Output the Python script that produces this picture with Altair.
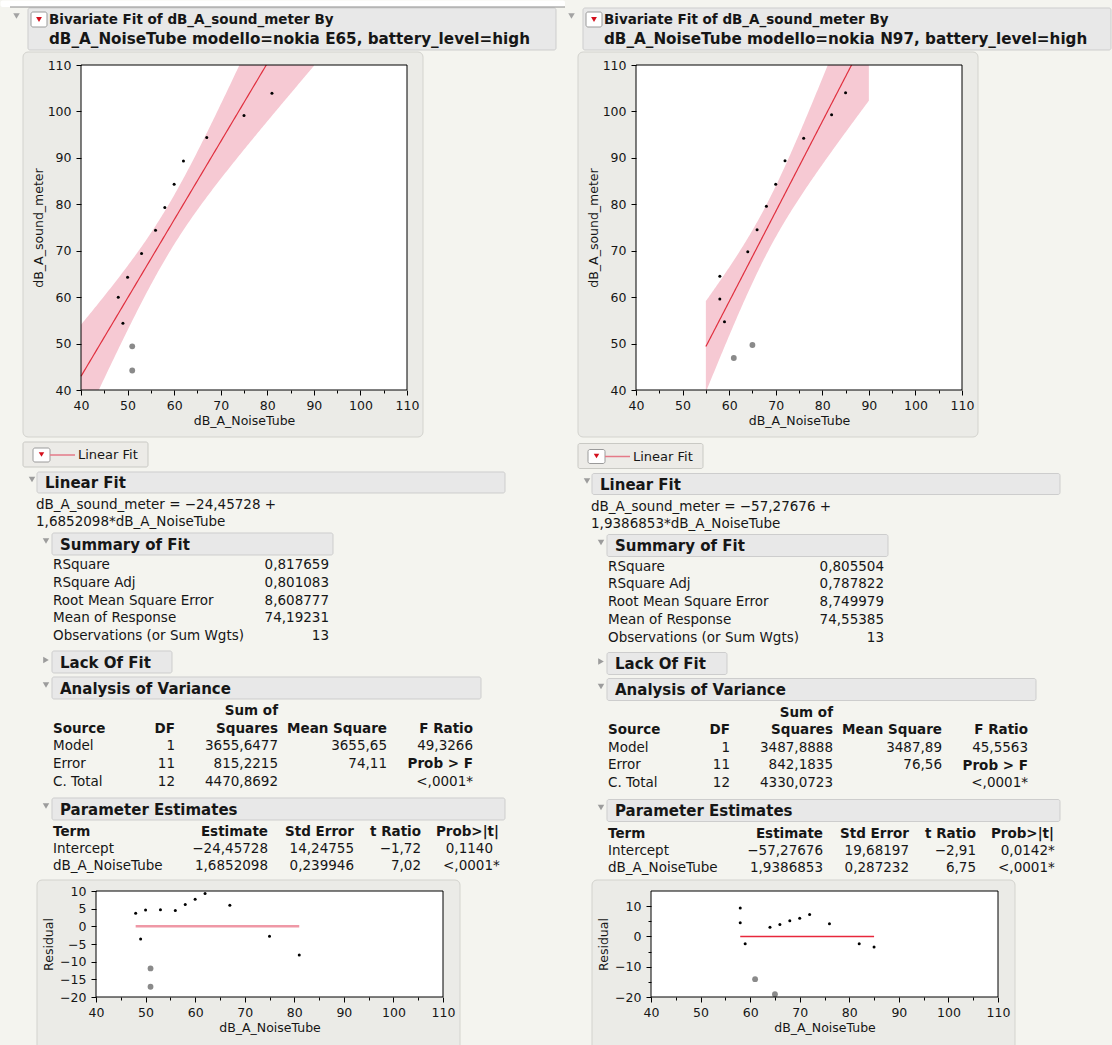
import altair as alt
import numpy as np
import pandas as pd

FONT = "DejaVu Sans"
BG = "#f4f4ef"
INK = "#161616"
PANEL = "#ebebe7"
PANEL_STROKE = "#d3d3ce"
BAR = "#e8e8e8"
BAR_STROKE = "#cdcdcd"
RED = "#e0303f"
BAND = "#f6c9d3"
BODY = 13.5
PAGE_W = 1112

# ---------------- data ----------------
left_title = ["Bivariate Fit of dB_A_sound_meter By",
              "dB_A_NoiseTube modello=nokia E65, battery_level=high"]
right_title = ["Bivariate Fit of dB_A_sound_meter By",
               "dB_A_NoiseTube modello=nokia N97, battery_level=high"]

left_noisetube = [48, 49, 50, 51, 51, 53, 56, 58, 60, 62, 67, 75, 81]
left_sound_meter = [60.0, 54.4, 64.3, 49.4, 44.2, 69.4, 74.4, 79.3, 84.3, 89.3, 94.4, 99.1, 103.9]
left_marker = ["dot", "dot", "dot", "grey", "grey", "dot", "dot", "dot", "dot", "dot", "dot", "dot", "dot"]
left_residual = [3.7, -3.6, 4.6, -11.9, -17.1, 4.7, 4.5, 6.2, 7.7, 9.3, 6.0, -2.8, -8.1]

right_noisetube = [58, 58, 59, 61, 64, 65, 66, 68, 70, 72, 76, 82, 85]
right_sound_meter = [64.5, 59.6, 54.7, 46.9, 69.8, 49.7, 74.5, 79.6, 84.3, 89.4, 94.2, 99.3, 104.0]
right_marker = ["dot", "dot", "dot", "grey", "dot", "grey", "dot", "dot", "dot", "dot", "dot", "dot", "dot"]
right_residual = [9.4, 4.5, -2.4, -14.1, 3.0, -19.1, 3.9, 5.2, 6.0, 7.2, 4.2, -2.4, -3.5]

left_fit = {"intercept": -24.45728, "slope": 1.6852098, "rmse": 8.608777, "from": 40, "to": 90}
right_fit = {"intercept": -57.27676, "slope": 1.9386853, "rmse": 8.749979, "from": 55, "to": 90}
t_crit_11df = 2.200985

left_equation = ["dB_A_sound_meter = \u221224,45728 +", "1,6852098*dB_A_NoiseTube"]
right_equation = ["dB_A_sound_meter = \u221257,27676 +", "1,9386853*dB_A_NoiseTube"]

summary_labels = ["RSquare", "RSquare Adj", "Root Mean Square Error", "Mean of Response",
                  "Observations (or Sum Wgts)"]
left_summary = ["0,817659", "0,801083", "8,608777", "74,19231", "13"]
right_summary = ["0,805504", "0,787822", "8,749979", "74,55385", "13"]

anova_sources = ["Model", "Error", "C. Total"]
anova_dfs = ["1", "11", "12"]
left_anova_ss = ["3655,6477", "815,2215", "4470,8692"]
left_anova_ms = ["3655,65", "74,11", ""]
left_anova_f = ["49,3266", "", "<,0001*"]
right_anova_ss = ["3487,8888", "842,1835", "4330,0723"]
right_anova_ms = ["3487,89", "76,56", ""]
right_anova_f = ["45,5563", "", "<,0001*"]

param_terms = ["Intercept", "dB_A_NoiseTube"]
left_estimate = ["\u221224,45728", "1,6852098"]
left_stderr = ["14,24755", "0,239946"]
left_tratio = ["\u22121,72", "7,02"]
left_prob = ["0,1140", "<,0001"]
left_flag = ["", "*"]
right_estimate = ["\u221257,27676", "1,9386853"]
right_stderr = ["19,68197", "0,287232"]
right_tratio = ["\u22122,91", "6,75"]
right_prob = ["0,0142", "<,0001"]
right_flag = ["*", "*"]

PX = dict(scale=None, axis=None)

# panel geometry (pixels): plot areas of the two columns
COL_SHIFT = 555
SCATTER_X = (81, 407)
SCATTER_TOP, SCATTER_H = 65, 325
RESID_X = (96, 443)
RESID_TOP, RESID_H = 891, 106


# ---------------- layout canvas (report decorations and text) ----------------
class Canvas:
    def __init__(self, oy=0):
        self.oy = oy
        self.dx = 0
        self.dy = 0
        self.panels, self.boxes, self.tris, self.rules, self.texts = [], [], [], [], []

    def shift(self, dx, dy):
        self.dx, self.dy = dx, dy

    def _y(self, y):
        return y + self.dy - self.oy

    def panel(self, x1, x2, y1, y2, fill=PANEL, stroke=PANEL_STROKE):
        self.panels.append(dict(x=x1 + self.dx, x2=x2 + self.dx, y=self._y(y1), y2=self._y(y2),
                                f=fill, s=stroke))

    def box(self, x1, x2, y1, y2, fill, stroke="transparent"):
        self.boxes.append(dict(x=x1 + self.dx, x2=x2 + self.dx, y=self._y(y1), y2=self._y(y2),
                               f=fill, s=stroke))

    def tri(self, x, y, shape, color, size):
        self.tris.append(dict(x=x + self.dx, y=self._y(y), sh=shape, c=color, sz=size))

    def rule(self, x1, x2, y, color, w):
        self.rules.append(dict(x=x1 + self.dx, x2=x2 + self.dx, y=self._y(y), c=color, w=w))

    def text(self, s, x, y, size=BODY, bold=False, align="left"):
        if s:
            self.texts.append(dict(t=s, x=x + self.dx, y=self._y(y), fs=size,
                                   wt="bold" if bold else "normal", al=align))

    def column(self, values, x, y0, dy, align="left", bold=False):
        for i, v in enumerate(values):
            self.text(v, x, y0 + i * dy, BODY, bold, align)

    def header(self, label, x1, x2, y1, y2, tri_x, shape="triangle-down"):
        cy = (y1 + y2) / 2
        self.tri(tri_x, cy - 3 if shape == "triangle-down" else cy - 2, shape, "#9c9c9c", 42)
        self.box(x1, x2, y1, y2, BAR, BAR_STROKE)
        self.text(label, x1 + 8, cy + 0.5, 15, True)

    def chart(self, width, height):
        layers = []
        for rows, radius in [(self.panels, 5), (self.boxes, 2)]:
            if rows:
                layers.append(alt.Chart(pd.DataFrame(rows)).mark_rect(
                    cornerRadius=radius, strokeWidth=1).encode(
                    x=alt.X("x:Q", **PX), x2="x2:Q", y=alt.Y("y:Q", **PX), y2="y2:Q",
                    fill=alt.Fill("f:N", scale=None), stroke=alt.Stroke("s:N", scale=None)))
        if self.rules:
            layers.append(alt.Chart(pd.DataFrame(self.rules)).mark_rule().encode(
                x=alt.X("x:Q", **PX), x2="x2:Q", y=alt.Y("y:Q", **PX),
                color=alt.Color("c:N", scale=None),
                strokeWidth=alt.StrokeWidth("w:Q", scale=None)))
        if self.tris:
            layers.append(alt.Chart(pd.DataFrame(self.tris)).mark_point(
                filled=True, opacity=1, strokeWidth=0).encode(
                x=alt.X("x:Q", **PX), y=alt.Y("y:Q", **PX),
                shape=alt.Shape("sh:N", scale=None), color=alt.Color("c:N", scale=None),
                size=alt.Size("sz:Q", scale=None)))
        tdf = pd.DataFrame(self.texts)
        for al in ["left", "right"]:
            for wt in ["normal", "bold"]:
                sub = tdf[(tdf.al == al) & (tdf.wt == wt)]
                if len(sub):
                    layers.append(alt.Chart(sub).mark_text(
                        align=al, baseline="middle", font=FONT, fontWeight=wt, color=INK
                    ).encode(x=alt.X("x:Q", **PX), y=alt.Y("y:Q", **PX), text="t:N",
                             size=alt.Size("fs:Q", scale=None)))
        return alt.layer(*layers).properties(width=width, height=height)


def band_frame(xs, fit):
    xs = np.asarray(xs, float)
    n = len(xs)
    xbar = xs.mean()
    sxx = ((xs - xbar) ** 2).sum()
    grid = np.linspace(fit["from"], fit["to"], 201)
    yhat = fit["intercept"] + fit["slope"] * grid
    se = fit["rmse"] * np.sqrt(1.0 / n + (grid - xbar) ** 2 / sxx)
    return pd.DataFrame({"x": grid, "fit": yhat,
                         "lo": yhat - t_crit_11df * se, "hi": yhat + t_crit_11df * se})


AX = dict(grid=False, domain=False, tickColor="black", tickWidth=1, labelColor=INK,
          titleColor=INK, labelFont=FONT, labelFontSize=12.5, titleFont=FONT,
          titleFontSize=12.5, titleFontWeight="normal", labelFlush=False,
          labelOverlap=False, zindex=1)

MINOR_TICK = {"condition": {"test": "datum.value % 10 === 0", "value": 5}, "value": 3}
MAJOR_LABEL = "datum.value % 10 === 0 ? datum.label : ''"


def x_axis():
    return alt.Axis(title="dB_A_NoiseTube", orient="bottom", values=list(range(40, 111, 5)),
                    labelExpr=MAJOR_LABEL, tickSize=MINOR_TICK, labelPadding=4,
                    titlePadding=3, **AX)


def frames(rects):
    df = pd.DataFrame(rects, columns=["x", "x2", "y", "y2"])
    return alt.Chart(df).mark_rect(fill="white", fillOpacity=0, stroke="black",
                                   strokeWidth=1).encode(
        x=alt.X("x:Q", **PX), x2="x2:Q", y=alt.Y("y:Q", **PX), y2="y2:Q")


def scatter_side(xs, ys, marker, fit, xr):
    pts = pd.DataFrame({"x": xs, "y": ys, "m": marker})
    fr = band_frame(xs, fit)
    xsc = alt.Scale(domain=[40, 110], range=list(xr), nice=False, zero=False)
    ysc = alt.Scale(domain=[40, 110], nice=False, zero=False)
    yax = alt.Axis(title="dB_A_sound_meter", orient="left", offset=-xr[0],
                   values=list(range(40, 111, 10)), tickSize=5,
                   labelPadding=5, titlePadding=2, **AX)
    X = alt.X("x:Q", scale=xsc, axis=x_axis())
    band = alt.Chart(fr).mark_area(clip=True, color=BAND, opacity=1).encode(
        x=X, y=alt.Y("lo:Q", scale=ysc, axis=yax), y2="hi:Q")
    line = alt.Chart(fr).mark_line(clip=True, color=RED, strokeWidth=1.2).encode(
        x=X, y=alt.Y("fit:Q", scale=ysc, axis=yax))
    dots = alt.Chart(pts[pts.m == "dot"]).mark_circle(
        size=9, color="black", opacity=1).encode(x=X, y=alt.Y("y:Q", scale=ysc, axis=yax))
    greys = alt.Chart(pts[pts.m == "grey"]).mark_circle(
        size=34, color="#8a8a8a", opacity=1).encode(x=X, y=alt.Y("y:Q", scale=ysc, axis=yax))
    return alt.layer(band, line, dots, greys)


def residual_side(xs, res, marker, ydom, yminor, line_color, line_w, xr):
    pts = pd.DataFrame({"x": xs, "y": res, "m": marker})
    span = pd.DataFrame({"x": [min(xs)], "x2": [max(xs)], "y": [0.0]})
    xsc = alt.Scale(domain=[40, 110], range=list(xr), nice=False, zero=False)
    ysc = alt.Scale(domain=ydom, nice=False, zero=False)
    common = dict(title="Residual", orient="left", offset=-xr[0],
                  values=list(range(-20, 11, 5)), labelPadding=5, titlePadding=4, **AX)
    if yminor:
        yax = alt.Axis(labelExpr=MAJOR_LABEL, tickSize=MINOR_TICK, **common)
    else:
        yax = alt.Axis(tickSize=5, **common)
    X = alt.X("x:Q", scale=xsc, axis=x_axis())
    Y = alt.Y("y:Q", scale=ysc, axis=yax)
    zero = alt.Chart(span).mark_rule(color=line_color, strokeWidth=line_w).encode(
        x=X, x2="x2:Q", y=Y)
    dots = alt.Chart(pts[pts.m == "dot"]).mark_circle(
        size=9, color="black", opacity=1).encode(x=X, y=Y)
    greys = alt.Chart(pts[pts.m == "grey"]).mark_circle(
        size=34, color="#8a8a8a", opacity=1).encode(x=X, y=Y)
    return alt.layer(zero, dots, greys)


# ---------------- row 1: titles, plot panels ----------------
top = Canvas(0)
top.box(0.5, 565, 0.5, 7, "white")
top.rule(10, 565, 7, "#8a8a8a", 1)
for k, title in enumerate([left_title, right_title]):
    top.shift(k * COL_SHIFT, 0)
    top.box(28, 556, 8, 50, BAR, BAR_STROKE)
    top.box(31, 47, 12, 27, "white", "#9a9a9a")
    top.tri(16.5, 16, "triangle-down", "#a3a3a3", 42)
    top.tri(39, 19.5, "triangle-down", "#d40f1c", 34)
    top.text(title[0], 49, 20, 13.5, True)
    top.text(title[1], 49, 39, 15.2, True)
    top.panel(23, 423, 52, 437)
    top.box(SCATTER_X[0], SCATTER_X[1], SCATTER_TOP, SCATTER_TOP + SCATTER_H, "white")
row_top = top.chart(PAGE_W, SCATTER_TOP)

# ---------------- row 2: scatter plots ----------------
row_scatter = alt.layer(
    scatter_side(left_noisetube, left_sound_meter, left_marker, left_fit, SCATTER_X),
    scatter_side(right_noisetube, right_sound_meter, right_marker, right_fit,
                 (SCATTER_X[0] + COL_SHIFT, SCATTER_X[1] + COL_SHIFT)),
    frames([[SCATTER_X[0], SCATTER_X[1], 0, SCATTER_H],
            [SCATTER_X[0] + COL_SHIFT, SCATTER_X[1] + COL_SHIFT, 0, SCATTER_H]]),
).resolve_scale(x="independent", y="independent").properties(width=PAGE_W, height=SCATTER_H)

# ---------------- row 3: statistics reports ----------------
st = Canvas(SCATTER_TOP + SCATTER_H)
cols = [
    (left_equation, left_summary, left_anova_ss, left_anova_ms, left_anova_f,
     left_estimate, left_stderr, left_tratio, left_prob, left_flag),
    (right_equation, right_summary, right_anova_ss, right_anova_ms, right_anova_f,
     right_estimate, right_stderr, right_tratio, right_prob, right_flag),
]
for k, (equation, summary, ss, ms, fr, est, se, tr, prob, flag) in enumerate(cols):
    st.shift(k * COL_SHIFT, 0)
    st.panel(37, 460, 880, 1052)
    st.box(RESID_X[0], RESID_X[1], RESID_TOP, RESID_TOP + RESID_H, "white")
    st.shift(k * COL_SHIFT, 1.5 * k)
    st.box(23, 148, 442, 467, "#ecebe7", "#c9c9c4")
    st.box(33, 50, 448, 462, "white", "#9a9a9a")
    st.tri(41.5, 454.5, "triangle-down", "#d40f1c", 30)
    st.rule(50, 75, 455, "#e57a88", 1.5)
    st.text("Linear Fit", 78, 455, 13)
    st.header("Linear Fit", 37, 505, 472, 493, 32)
    st.text(equation[0], 36, 505)
    st.text(equation[1], 36, 522)
    st.header("Summary of Fit", 52, 333, 533, 555, 46)
    st.column(summary_labels, 53, 565, 17.8, "left")
    st.column(summary, 329, 565, 17.8, "right")
    st.header("Lack Of Fit", 52, 172, 651, 673, 46, "triangle-right")
    st.header("Analysis of Variance", 52, 481, 677, 699, 46)
    st.text("Sum of", 278, 711, BODY, True, "right")
    st.text("Source", 53, 728.5, BODY, True, "left")
    st.text("DF", 175, 728.5, BODY, True, "right")
    st.text("Squares", 278, 728.5, BODY, True, "right")
    st.text("Mean Square", 387, 728.5, BODY, True, "right")
    st.text("F Ratio", 473, 728.5, BODY, True, "right")
    st.column(anova_sources, 53, 746, 17.9, "left")
    st.column(anova_dfs, 175, 746, 17.9, "right")
    st.column(ss, 278, 746, 17.9, "right")
    st.column(ms, 387, 746, 17.9, "right")
    st.column(fr, 473, 746, 17.9, "right")
    st.text("Prob > F", 473, 764, BODY, True, "right")
    st.header("Parameter Estimates", 52, 505, 798, 820, 46)
    st.text("Term", 53, 832, BODY, True, "left")
    st.text("Estimate", 268, 832, BODY, True, "right")
    st.text("Std Error", 354, 832, BODY, True, "right")
    st.text("t Ratio", 421, 832, BODY, True, "right")
    st.text("Prob>|t|", 499, 832, BODY, True, "right")
    st.column(param_terms, 53, 849, 17.2, "left")
    st.column(est, 268, 849, 17.2, "right")
    st.column(se, 354, 849, 17.2, "right")
    st.column(tr, 421, 849, 17.2, "right")
    st.column(prob, 493, 849, 17.2, "right")
    st.column(flag, 493, 849, 17.2, "left")
row_stats = st.chart(PAGE_W, RESID_TOP - SCATTER_TOP - SCATTER_H)

# ---------------- row 4: residual plots ----------------
row_resid = alt.layer(
    residual_side(left_noisetube, left_residual, left_marker, [-20, 10], False,
                  "#ef98a6", 2.5, RESID_X),
    residual_side(right_noisetube, right_residual, right_marker, [-20, 15], True,
                  "#e8283c", 1.5, (RESID_X[0] + COL_SHIFT, RESID_X[1] + COL_SHIFT)),
    frames([[RESID_X[0], RESID_X[1], 0, RESID_H],
            [RESID_X[0] + COL_SHIFT, RESID_X[1] + COL_SHIFT, 0, RESID_H]]),
).resolve_scale(x="independent", y="independent").properties(width=PAGE_W, height=RESID_H)

chart = alt.vconcat(row_top, row_scatter, row_stats, row_resid, spacing=0,
                    bounds="flush").properties(
    padding={"left": 0, "top": 0, "right": 0, "bottom": 0}
).configure(background=BG, font=FONT).configure_view(stroke=None)

chart.save("out.html", embed_options={"renderer": "svg", "actions": False})
